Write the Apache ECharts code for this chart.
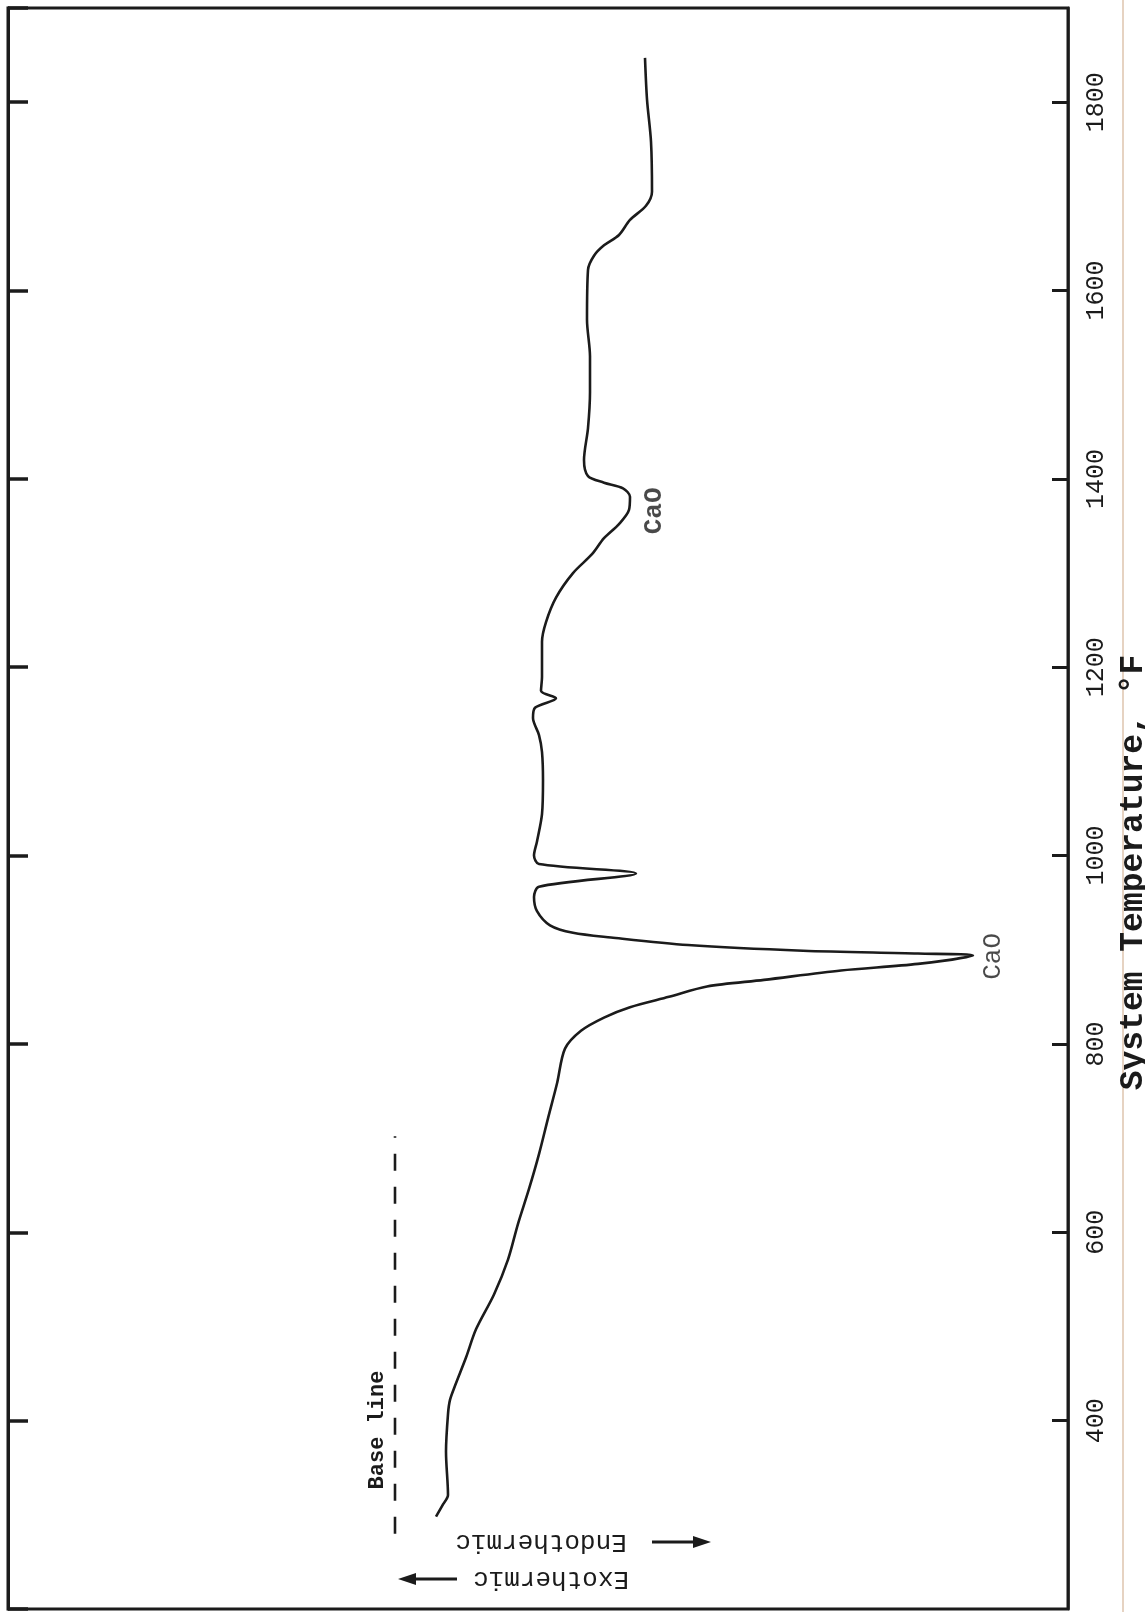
<!DOCTYPE html>
<html>
<head>
<meta charset="utf-8">
<script src="https://cdn.jsdelivr.net/npm/echarts@6/dist/echarts.min.js"></script>
<style>
  html, body { margin: 0; padding: 0; background: #fff; }
  #chart { width: 1145px; height: 1612px; }
</style>
</head>
<body>
<div id="chart"></div>
<script>
// 温度 (°F) 和 差热偏移 (任意单位, 0 = 基线)
const temps = [298, 311, 321, 367, 407, 422, 437, 467, 497, 534, 571, 609, 646, 683, 721,
  758, 795, 814, 828, 839, 850, 861, 868, 878, 885, 894, 896, 899, 905, 913,
  918, 926, 941, 956, 967, 981, 991, 1000, 1015, 1044, 1080, 1110, 1128, 1146, 1157,
  1167, 1175, 1190, 1227, 1248, 1274, 1300, 1320, 1337, 1352, 1367, 1381, 1390, 1396, 1403,
  1420, 1454, 1492, 1530, 1569, 1622, 1637, 1648, 1659, 1675, 1690, 1705, 1758, 1803, 1847]
const deflection = [4.1, 4.8, 5.3, 5.1, 5.3, 5.5, 6.0, 7.1, 8.1, 9.9, 11.3, 12.3, 13.4, 14.4, 15.3,
  16.2, 17.0, 18.6, 20.9, 23.5, 27.4, 31.2, 36.9, 44.6, 52.3, 57.8, 52.3, 40.8, 29.3, 21.6,
  17.8, 15.5, 14.2, 13.9, 14.4, 24.1, 14.4, 13.9, 14.2, 14.7, 14.8, 14.7, 14.4, 13.8, 14.0,
  16.1, 14.6, 14.7, 14.7, 15.1, 16.1, 17.8, 19.7, 20.9, 22.4, 23.4, 23.5, 22.8, 20.9, 19.3,
  18.9, 19.3, 19.5, 19.5, 19.2, 19.3, 19.9, 20.9, 22.4, 23.5, 25.1, 25.7, 25.6, 25.2, 25.0]
// 基线
const baseTemps = [280, 702]
const baseDefl = [0, 0]
// 峰的标注
const peakNames = ['CaO', 'CaO']
const peakTemps = [1366, 893]
const peakDefl = [25.9, 59.8]

const ink = '#1b1b1b'
const mono = '"Liberation Mono", "DejaVu Sans Mono", monospace'

let myChart = echarts.init(document.getElementById('chart'))
let option = {
  animation: false,
  backgroundColor: '#fff',
  grid: {
    left: 8, right: 77, top: 8, bottom: 3,
    outerBoundsMode: 'none',
    show: true, borderColor: ink, borderWidth: 3
  },
  xAxis: { type: 'value', min: -38.7, max: 67.3, show: false },
  yAxis: [
    {
      type: 'value', position: 'right', min: 200, max: 1900, interval: 200,
      axisLine: { show: true, onZero: false, lineStyle: { color: ink, width: 2.5 } },
      axisTick: { show: true, inside: true, length: 16, lineStyle: { color: ink, width: 3 } },
      axisLabel: {
        rotate: 90, margin: 16, fontFamily: mono, fontSize: 25, color: ink,
        showMinLabel: false, showMaxLabel: false,
        formatter: (v) => String(v)
      },
      splitLine: { show: false },
      name: 'System Temperature, °F',
      nameLocation: 'middle',
      nameRotate: 90,
      nameGap: 45,
      nameTextStyle: { fontFamily: mono, fontSize: 33, fontWeight: 'bold', color: ink, padding: [0, 128, 0, 0] }
    },
    {
      type: 'value', position: 'left', min: 200, max: 1900, interval: 200,
      axisLine: { show: true, onZero: false, lineStyle: { color: ink, width: 3 } },
      axisTick: { show: true, inside: true, length: 20, lineStyle: { color: ink, width: 3.5 } },
      axisLabel: { show: false },
      splitLine: { show: false }
    }
  ],
  graphic: [
    // 纸边
    { type: 'line', shape: { x1: 1123, y1: 0, x2: 1123, y2: 1612 }, style: { stroke: '#e6d3c2', lineWidth: 2 }, z: 0 },
    { type: 'text', x: 377, y: 1430, rotation: Math.PI / 2,
      style: { text: 'Base line', font: 'bold 22px ' + mono, fill: ink, align: 'center', verticalAlign: 'middle' } },
    { type: 'text', x: 551, y: 1579, rotation: Math.PI,
      style: { text: 'Exothermic', font: '26px ' + mono, fill: ink, align: 'center', verticalAlign: 'middle' } },
    { type: 'text', x: 541, y: 1542, rotation: Math.PI,
      style: { text: 'Endothermic', font: '26px ' + mono, fill: ink, align: 'center', verticalAlign: 'middle' } },
    { type: 'line', shape: { x1: 408, y1: 1579, x2: 457, y2: 1579 }, style: { stroke: ink, lineWidth: 3 } },
    { type: 'polygon', shape: { points: [[398, 1579], [416, 1573], [416, 1585]] }, style: { fill: ink } },
    { type: 'line', shape: { x1: 652, y1: 1542, x2: 700, y2: 1542 }, style: { stroke: ink, lineWidth: 3 } },
    { type: 'polygon', shape: { points: [[711, 1542], [693, 1536], [693, 1548]] }, style: { fill: ink } }
  ],
  series: [
    {
      name: 'DTA',
      type: 'line',
      data: temps.map((t, i) => [deflection[i], t]),
      showSymbol: false,
      smooth: 0.3,
      lineStyle: { color: ink, width: 2.6 }
    },
    {
      name: 'Base line',
      type: 'line',
      data: baseTemps.map((t, i) => [baseDefl[i], t]),
      showSymbol: false,
      lineStyle: { color: ink, width: 2.6, type: [17, 16] }
    },
    {
      name: 'peaks',
      type: 'scatter',
      symbolSize: 0,
      data: peakTemps.map((t, i) => ({
        value: [peakDefl[i], t],
        name: peakNames[i],
        label: { fontWeight: i === 0 ? 'bold' : 'normal' }
      })),
      label: {
        show: true, formatter: '{b}', position: 'inside', rotate: 90,
        fontFamily: mono, fontSize: 26, color: ink
      }
    }
  ]
}
myChart.setOption(option)
</script>
</body>
</html>
